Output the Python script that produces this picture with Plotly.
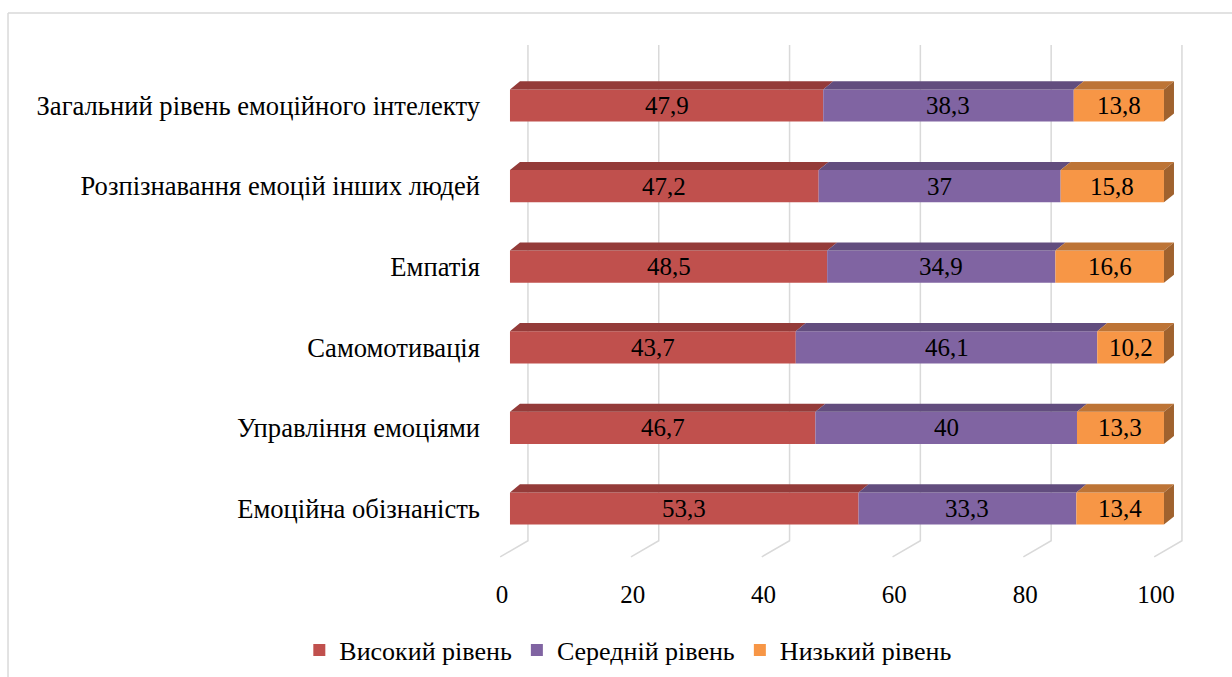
import plotly.graph_objects as go

# Categories (top to bottom) and series values, %
categories = [
    "Загальний рівень емоційного інтелекту",
    "Розпізнавання емоцій інших людей",
    "Емпатія",
    "Самомотивація",
    "Управління емоціями",
    "Емоційна обізнаність",
]
high = [47.9, 47.2, 48.5, 43.7, 46.7, 53.3]
medium = [38.3, 37, 34.9, 46.1, 40, 33.3]
low = [13.8, 15.8, 16.6, 10.2, 13.3, 13.4]

series_names = ["Високий рівень", "Середній рівень", "Низький рівень"]
x_ticks = [0, 20, 40, 60, 80, 100]

front_colors = ["#C0504D", "#8064A2", "#F79646"]
top_colors = ["#943B39", "#624D7E", "#BD7436"]
side_color = "#A0622E"

FONT = "Liberation Serif"
FS = 25

# pseudo-3D geometry in data units
BAR_W = 0.40       # front face thickness
DEPTH_X = 1.53     # horizontal shift of the back edge
DEPTH_Y = 0.10     # vertical shift of the back edge
WALL_X = 2.75      # back wall offset of gridlines
FLOOR_X = -1.5     # front floor offset of gridlines
WALL_TOP, FLOOR_BACK, FLOOR_FRONT = -0.75, 5.40, 5.60

rows = list(range(len(categories)))


def fmt(v):
    return f"{v:g}".replace(".", ",")


fig = go.Figure()

all_series = [high, medium, low]
starts = [[0.0] * len(rows)]
for s in all_series[:-1]:
    starts.append([a + b for a, b in zip(starts[-1], s)])

# front faces
for name, vals, base, col in zip(series_names, all_series, starts, front_colors):
    fig.add_trace(go.Bar(
        y=rows, x=vals, base=base, orientation="h", name=name,
        width=BAR_W, marker=dict(color=col, line=dict(width=0)),
        hoverinfo="skip",
    ))

# value labels centred on each segment
annotations = []
for vals, base in zip(all_series, starts):
    for r, v, b in zip(rows, vals, base):
        annotations.append(dict(
            x=b + v / 2, y=r, xref="x", yref="y", text=fmt(v),
            showarrow=False, xanchor="center", yanchor="middle",
            font=dict(family=FONT, size=FS, color="black"),
        ))

# top faces
for vals, base, col in zip(all_series, starts, top_colors):
    xs, ys = [], []
    for r, v, b in zip(rows, vals, base):
        yt = r - BAR_W / 2
        xs += [b, b + v, b + v + DEPTH_X, b + DEPTH_X, b, None]
        ys += [yt, yt, yt - DEPTH_Y, yt - DEPTH_Y, yt, None]
    fig.add_trace(go.Scatter(x=xs, y=ys, mode="lines", fill="toself",
                             fillcolor=col, line=dict(width=0),
                             showlegend=False, hoverinfo="skip"))

# right side faces of the last segment
xs, ys = [], []
for r, v, b in zip(rows, low, starts[2]):
    e = b + v
    yt, yb = r - BAR_W / 2, r + BAR_W / 2
    xs += [e, e + DEPTH_X, e + DEPTH_X, e, e, None]
    ys += [yt, yt - DEPTH_Y, yb - DEPTH_Y, yb, yt, None]
fig.add_trace(go.Scatter(x=xs, y=ys, mode="lines", fill="toself",
                         fillcolor=side_color, line=dict(width=0),
                         showlegend=False, hoverinfo="skip"))

# back wall gridlines bending onto the floor
shapes = []
for v in x_ticks:
    shapes.append(dict(
        type="path", xref="x", yref="y", layer="below",
        path=(f"M {v + WALL_X},{WALL_TOP} L {v + WALL_X},{FLOOR_BACK} "
              f"L {v + FLOOR_X},{FLOOR_FRONT}"),
        line=dict(color="#D9D9D9", width=1.5),
    ))

# chart frame (top and left edges)
shapes.append(dict(type="line", xref="paper", yref="paper",
                   x0=-0.7007, x1=1.2, y0=1.051, y1=1.051,
                   line=dict(color="#D9D9D9", width=1.5)))
shapes.append(dict(type="line", xref="paper", yref="paper",
                   x0=-0.7007, x1=-0.7007, y0=1.051, y1=-0.3,
                   line=dict(color="#D9D9D9", width=1.5)))

fig.update_layout(
    width=1232, height=677,
    margin=dict(l=495, r=42, t=40, b=107, autoexpand=False),
    paper_bgcolor="white", plot_bgcolor="white",
    barmode="overlay",
    showlegend=True,
    legend=dict(orientation="h", xref="container", x=0.51, xanchor="center",
                y=-0.151, yanchor="middle", itemwidth=30,
                font=dict(family=FONT, size=26, color="black"),
                traceorder="normal"),
    shapes=shapes,
    annotations=annotations,
    font=dict(family=FONT, color="black"),
)

fig.update_xaxes(range=[-2.29, 103.98], tickvals=x_ticks,
                 ticktext=[str(t) for t in x_ticks],
                 showgrid=False, zeroline=False, showline=False, ticks="",
                 ticklabelshift=-8, ticklabelstandoff=7,
                 tickfont=dict(family=FONT, size=FS, color="black"))
fig.update_yaxes(range=[5.763, -0.8127], tickvals=rows, ticktext=categories,
                 showgrid=False, zeroline=False, showline=False, ticks="",
                 ticklabelstandoff=14,
                 tickfont=dict(family=FONT, size=26.6, color="black"))

fig.write_html("out.html")
